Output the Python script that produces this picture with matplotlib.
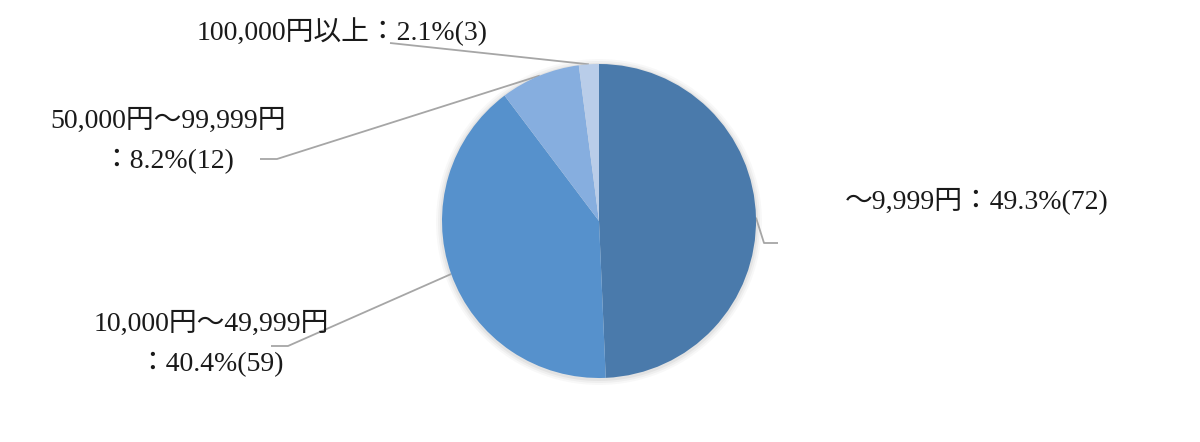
# pie chart: amount distribution with leader-line labels

import numpy as np
import matplotlib.pyplot as plt
from matplotlib.patches import Circle

# data
categories = ['～9,999円', '10,000円～49,999円', '50,000円～99,999円', '100,000円以上']
counts = [72, 59, 12, 3]
percents = [49.3, 40.4, 8.2, 2.1]

colors = ['#4a7aab', '#5691cc', '#86aedf', '#b9cde9']
font = ['Liberation Serif', 'Noto Sans CJK JP']
line_color = '#a6a6a6'

W, H = 1200, 442
fig = plt.figure(figsize=(12, 4.42), dpi=100)
ax = fig.add_axes([0, 0, 1, 1])

cx, cy, r = 599, H - 221, 157

# soft shadow round the pie
for k, a in zip([6, 4, 2], [0.05, 0.07, 0.10]):
    ax.add_patch(Circle((cx, cy - 1), r + k, color='#808080', alpha=a, lw=0, zorder=0))

wedges, _ = ax.pie(counts, colors=colors, startangle=90, counterclock=False,
                   center=(cx, cy), radius=r, wedgeprops={'linewidth': 0})
for w in wedges:
    w.set_zorder(2)

ax.set_xlim(0, W)
ax.set_ylim(0, H)
ax.set_aspect('equal')
ax.axis('off')

# edge point at the middle of each wedge
edge = []
for w in wedges:
    mid = np.deg2rad((w.theta1 + w.theta2) / 2)
    edge.append((cx + r * np.cos(mid), cy + r * np.sin(mid)))

# label layout: (elbow points in pixel coords from top, text x, text y, ha)
layout = [
    ([(764, 243), (778, 243)], 845, 201, 'left'),
    ([(288, 346), (271, 346)], 211, 344, 'center'),
    ([(277, 159), (260, 159)], 168, 141, 'center'),
    ([(390, 43)], 197, 32, 'left'),
]

labels = [
    f'{categories[0]}：{percents[0]}%({counts[0]})',
    f'{categories[1]}\n：{percents[1]}%({counts[1]})',
    f'{categories[2]}\n：{percents[2]}%({counts[2]})',
    f'{categories[3]}：{percents[3]}%({counts[3]})',
]

for (pts, tx, ty, ha), (ex, ey), lab in zip(layout, edge, labels):
    xs = [ex] + [p[0] for p in pts]
    ys = [ey] + [H - p[1] for p in pts]
    ax.plot(xs, ys, color=line_color, lw=1.3, zorder=1, solid_capstyle='butt')
    ax.text(tx, H - ty, lab, family=font, fontsize=20, color='#1a1a1a',
            ha=ha, va='center', multialignment='center', linespacing=1.8, zorder=3)

plt.savefig('out.png', dpi=100)
